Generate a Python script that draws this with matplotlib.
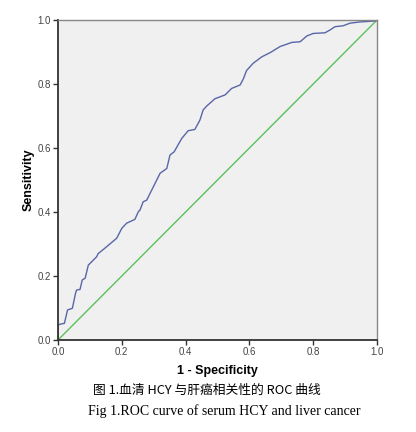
import numpy as np
import matplotlib.pyplot as plt

plt.rcParams['font.family'] = ['Liberation Sans', 'DejaVu Sans']

# ROC curve points
fpr = [0.0, 0.0, 0.009, 0.02, 0.03, 0.045, 0.055, 0.058, 0.069, 0.076, 0.085, 0.09,
       0.095, 0.106, 0.121, 0.126, 0.147, 0.184, 0.2, 0.215, 0.241, 0.252, 0.257,
       0.267, 0.278, 0.299, 0.32, 0.341, 0.351, 0.364, 0.388, 0.408, 0.429, 0.445,
       0.455, 0.466, 0.492, 0.524, 0.544, 0.571, 0.581, 0.591, 0.612, 0.639, 0.665,
       0.696, 0.733, 0.759, 0.78, 0.8, 0.837, 0.853, 0.868, 0.894, 0.915, 0.947,
       0.997, 1.0]
tpr = [0.0, 0.047, 0.05, 0.052, 0.094, 0.099, 0.146, 0.156, 0.158, 0.1875, 0.193, 0.213,
       0.234, 0.245, 0.26, 0.27, 0.287, 0.318, 0.349, 0.365, 0.377, 0.401, 0.406,
       0.432, 0.437, 0.479, 0.521, 0.536, 0.578, 0.588, 0.63, 0.654, 0.658, 0.6875,
       0.719, 0.731, 0.754, 0.766, 0.786, 0.797, 0.816, 0.842, 0.865, 0.885, 0.898,
       0.917, 0.93, 0.932, 0.95, 0.958, 0.96, 0.969, 0.979, 0.982, 0.99, 0.994,
       0.997, 1.0]
ref_line = [0.0, 1.0]
ticks = [0.0, 0.2, 0.4, 0.6, 0.8, 1.0]
tick_labels = ["0.0", "0.2", "0.4", "0.6", "0.8", "1.0"]

fig = plt.figure(figsize=(4.16, 4.32), dpi=100)
ax = fig.add_axes([58 / 416, 92 / 432, 319 / 416, 320 / 432])
ax.set_facecolor("#f0f0f0")

ax.plot(ref_line, ref_line, color="#5cc05c", lw=1.0)
ax.plot(fpr, tpr, color="#5866a8", lw=1.0)

ax.set_xlim(0, 1)
ax.set_ylim(0, 1)
ax.set_xticks(ticks)
ax.set_yticks(ticks)
ax.set_xticklabels(tick_labels)
ax.set_yticklabels(tick_labels)
ax.tick_params(labelsize=7, labelcolor="#444444", color="#333333", length=3.5,
               width=1.0, pad=1.5)
for s in ["left", "bottom"]:
    ax.spines[s].set_color("#333333")
    ax.spines[s].set_linewidth(1.3)
for s in ["top", "right"]:
    ax.spines[s].set_color("#888888")
    ax.spines[s].set_linewidth(1.0)

ax.set_xlabel("1 - Specificity", fontsize=9, fontweight="bold", labelpad=6)
ax.set_ylabel("Sensitivity", fontsize=9, fontweight="bold", labelpad=2)

fig.text(0.498, 1 - 390 / 432, "图 1.血清 HCY 与肝癌相关性的 ROC 曲线",
         family=["Noto Sans CJK SC", "DejaVu Sans"], fontsize=9.2,
         ha="center", va="center")
fig.text(0.538, 1 - 411 / 432, "Fig 1.ROC curve of serum HCY and liver cancer",
         family=["Liberation Serif"], fontsize=10, ha="center", va="center")

fig.savefig("out.png", dpi=100)
